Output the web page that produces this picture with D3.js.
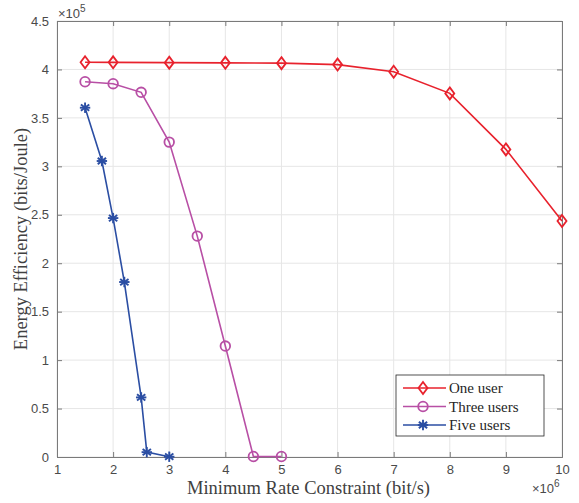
<!DOCTYPE html>
<html>
<head>
<meta charset="utf-8">
<script src="https://cdn.jsdelivr.net/npm/d3@7"></script>
<style>
  body { margin: 0; background: #fff; }
  svg { display: block; }
</style>
</head>
<body>
<svg width="579" height="503"></svg>
<script>
// series (y in units of 1e5, x in units of 1e6)
const oneX = [1.5, 2, 3, 4, 5, 6, 7, 8, 9, 10];
const oneY = [4.075, 4.073, 4.07, 4.068, 4.065, 4.05, 3.977, 3.753, 3.175, 2.435];
const threeX = [1.5, 2, 2.5, 3, 3.5, 4, 4.5, 5];
const threeY = [3.873, 3.853, 3.764, 3.25, 2.28, 1.145, 0.005, 0.005];
const fiveX = [1.5, 1.8, 2, 2.2, 2.5, 2.6, 3];
const fiveY = [3.605, 3.055, 2.466, 1.806, 0.615, 0.05, 0.003];

const xTicks = [1, 2, 3, 4, 5, 6, 7, 8, 9, 10];
const yTicks = [0, 0.5, 1, 1.5, 2, 2.5, 3, 3.5, 4, 4.5];
const seriesNames = ["One user", "Three users", "Five users"];

const svg = d3.select("svg");
const mLeft = 57, mRight = 562, mTop = 21, mBottom = 457;

const x = d3.scaleLinear().domain([1, 10]).range([mLeft, mRight]);
const y = d3.scaleLinear().domain([0, 4.5]).range([mBottom, mTop]);

const axisColor = "#262626";
const tickColor = "#4a4a4a";
const labelColor = "#404040";

// grid
svg.append("g").selectAll("line")
  .data(xTicks).enter().append("line")
  .attr("x1", d => x(d)).attr("x2", d => x(d))
  .attr("y1", mTop).attr("y2", mBottom)
  .attr("stroke", "#e6e6e6").attr("stroke-width", 1);
svg.append("g").selectAll("line")
  .data(yTicks).enter().append("line")
  .attr("x1", mLeft).attr("x2", mRight)
  .attr("y1", d => y(d)).attr("y2", d => y(d))
  .attr("stroke", "#e6e6e6").attr("stroke-width", 1);

// axes (ticks pointing inward, box on)
const fmt = d => d3.format("")(d);
const xAxis = d3.axisBottom(x).tickValues(xTicks).tickSize(-5).tickPadding(8).tickFormat(fmt);
const yAxis = d3.axisLeft(y).tickValues(yTicks).tickSize(-5).tickPadding(8).tickFormat(fmt);
const xTop = d3.axisTop(x).tickValues(xTicks).tickSize(-5).tickFormat("");
const yRight = d3.axisRight(y).tickValues(yTicks).tickSize(-5).tickFormat("");

function styleAxis(g) {
  g.select(".domain").attr("stroke", "#7a7a7a").attr("stroke-width", 1);
  g.selectAll(".tick line").attr("stroke", "#7a7a7a");
  g.selectAll(".tick text").attr("fill", tickColor)
    .style("font-family", "Liberation Sans, Arial, sans-serif").style("font-size", "13px");
}
svg.append("g").attr("transform", `translate(0,${mBottom})`).call(xAxis).call(styleAxis);
svg.append("g").attr("transform", `translate(${mLeft},0)`).call(yAxis).call(styleAxis);
svg.append("g").attr("transform", `translate(0,${mTop})`).call(xTop).call(styleAxis);
svg.append("g").attr("transform", `translate(${mRight},0)`).call(yRight).call(styleAxis);

// exponent labels
const expY = svg.append("text").attr("x", mLeft + 1).attr("y", mTop - 3)
  .attr("fill", tickColor).style("font-family", "Liberation Sans, Arial, sans-serif").style("font-size", "13px");
expY.append("tspan").text("\u00d710");
expY.append("tspan").attr("dy", -6).style("font-size", "10px").text("5");
const expX = svg.append("text").attr("x", 532).attr("y", mBottom + 36)
  .attr("fill", tickColor).style("font-family", "Liberation Sans, Arial, sans-serif").style("font-size", "13px");
expX.append("tspan").text("\u00d710");
expX.append("tspan").attr("dy", -6).style("font-size", "10px").text("6");

// axis titles
svg.append("text").attr("x", (mLeft + mRight) / 2 - 1).attr("y", 494)
  .attr("text-anchor", "middle").attr("fill", labelColor)
  .style("font-family", "Liberation Serif, Times New Roman, serif").style("font-size", "18.5px")
  .text("Minimum Rate Constraint (bit/s)");
svg.append("text").attr("transform", `translate(27,${(mTop + mBottom) / 2}) rotate(-90)`)
  .attr("text-anchor", "middle").attr("fill", labelColor)
  .style("font-family", "Liberation Serif, Times New Roman, serif").style("font-size", "18.5px")
  .text("Energy Efficiency (bits/Joule)");

const line = d3.line().x(d => x(d[0])).y(d => y(d[1]));
const series = [
  { name: seriesNames[0], color: "#e8222d", marker: "diamond", pts: d3.zip(oneX, oneY) },
  { name: seriesNames[1], color: "#b84fa5", marker: "circle", pts: d3.zip(threeX, threeY) },
  { name: seriesNames[2], color: "#2b4ea3", marker: "star", pts: d3.zip(fiveX, fiveY) }
];

function drawMarker(g, type, color) {
  if (type === "diamond") {
    g.append("path").attr("d", "M0,-6L4.5,0L0,6L-4.5,0Z")
      .attr("fill", "none").attr("stroke", color).attr("stroke-width", 1.8);
  } else if (type === "circle") {
    g.append("circle").attr("r", 4.8)
      .attr("fill", "none").attr("stroke", color).attr("stroke-width", 1.8);
  } else {
    const r = 5.2;
    [[0, -r, 0, r], [-r * 0.8, -r * 0.6, r * 0.8, r * 0.6], [-r * 0.8, r * 0.6, r * 0.8, -r * 0.6], [-r, 0, r, 0]]
      .forEach(s => g.append("line").attr("x1", s[0]).attr("y1", s[1]).attr("x2", s[2]).attr("y2", s[3])
        .attr("stroke", color).attr("stroke-width", 1.9));
  }
}

series.forEach(s => {
  svg.append("path").datum(s.pts).attr("d", line)
    .attr("fill", "none").attr("stroke", s.color).attr("stroke-width", 1.6);
  s.pts.forEach(p => {
    const g = svg.append("g").attr("transform", `translate(${x(p[0])},${y(p[1])})`);
    drawMarker(g, s.marker, s.color);
  });
});

// legend
const lg = svg.append("g").attr("transform", "translate(396,375)");
lg.append("rect").attr("width", 148).attr("height", 61)
  .attr("fill", "#fff").attr("stroke", axisColor).attr("stroke-width", 0.8);
series.forEach((s, i) => {
  const yy = 13 + i * 18.5;
  lg.append("line").attr("x1", 7).attr("x2", 50).attr("y1", yy).attr("y2", yy)
    .attr("stroke", s.color).attr("stroke-width", 1.6);
  drawMarker(lg.append("g").attr("transform", `translate(27,${yy})`), s.marker, s.color);
  lg.append("text").attr("x", 53).attr("y", yy + 5).attr("fill", axisColor)
    .style("font-family", "Liberation Serif, Times New Roman, serif").style("font-size", "15px")
    .text(s.name);
});
</script>
</body>
</html>
